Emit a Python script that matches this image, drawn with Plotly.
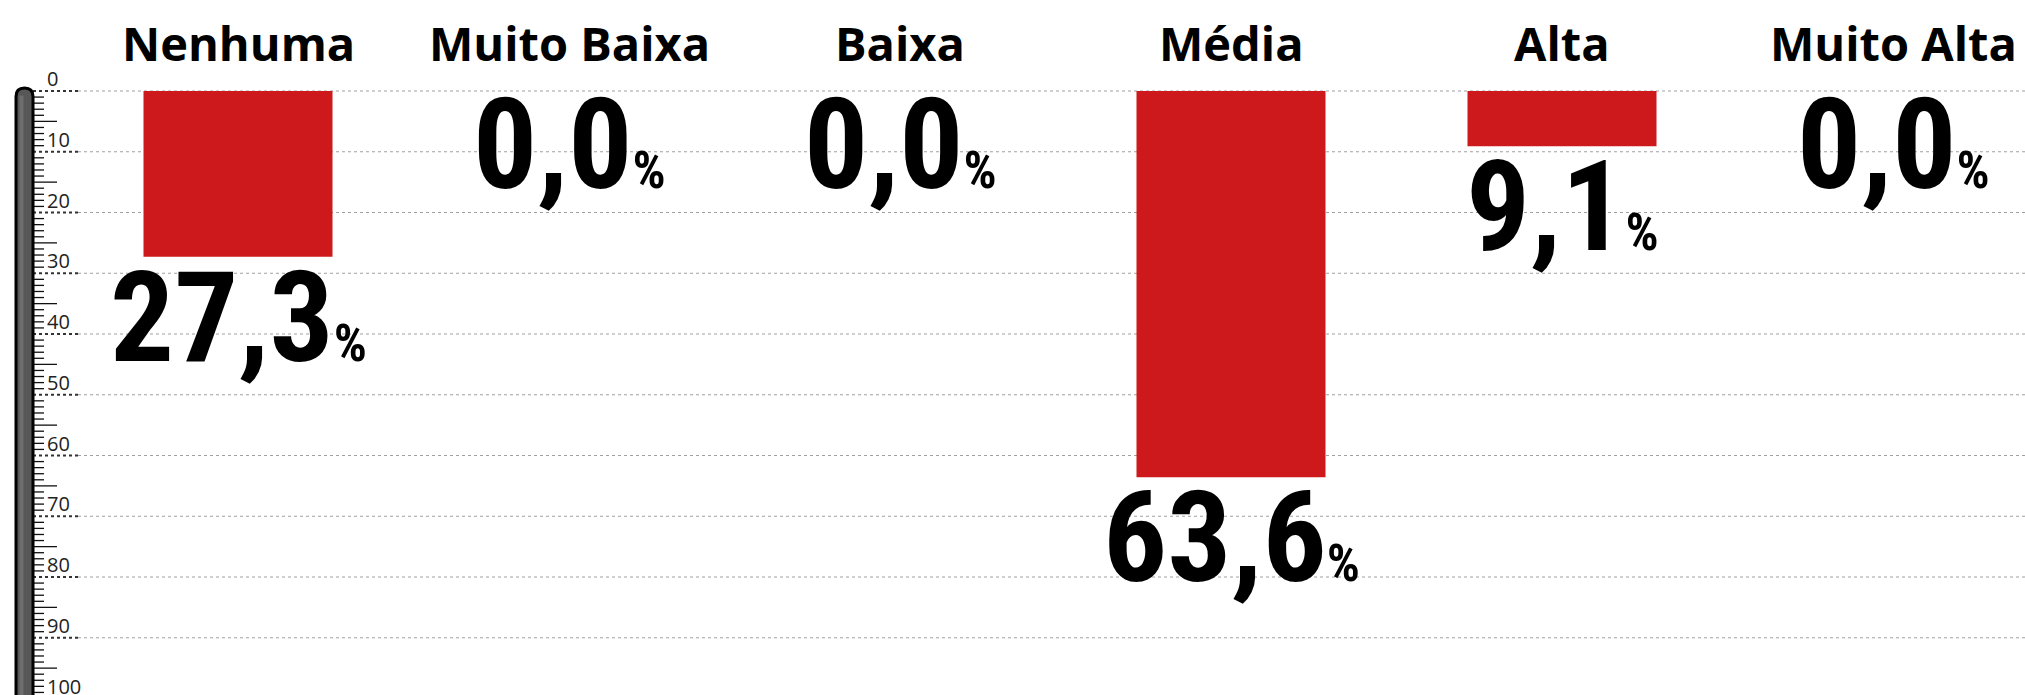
import plotly.graph_objects as go

# ---------------- data ----------------
categories = ["Nenhuma", "Muito Baixa", "Baixa", "Média", "Alta", "Muito Alta"]
values = [27.3, 0.0, 0.0, 63.6, 9.1, 0.0]
value_labels = ["27,3", "0,0", "0,0", "63,6", "9,1", "0,0"]
tick_values = [0, 10, 20, 30, 40, 50, 60, 70, 80, 90, 100]
tick_labels = ["0", "10", "20", "30", "40", "50", "60", "70", "80", "90", "100"]
minor_step = 1
medium_step = 5

# ---------------- geometry (pixels) ----------------
W, H = 2025, 695
PX_PER_UNIT = 6.075
ZERO_PX = 91.0
Y_TOP = -ZERO_PX / PX_PER_UNIT
Y_BOTTOM = (H - ZERO_PX) / PX_PER_UNIT
CAT0_PX, CAT_STEP_PX = 238.0, 331.0
X_LEFT = -CAT0_PX / CAT_STEP_PX
X_RIGHT = (W - CAT0_PX) / CAT_STEP_PX


def pxx(p):
    return p / W


RED = "#CD191B"
fig = go.Figure()
fig.add_trace(go.Bar(
    x=categories, y=values, base=0, width=189 / CAT_STEP_PX,
    marker=dict(color=RED, line=dict(width=0)), hoverinfo="skip",
))

shapes = []
# gridlines
for v in tick_values:
    shapes.append(dict(type="line", xref="paper", yref="y", x0=pxx(78), x1=1, y0=v, y1=v,
                       line=dict(color="#a0a0a0", width=1, dash="dot"), layer="below"))
    shapes.append(dict(type="line", xref="paper", yref="y", x0=pxx(33), x1=pxx(78), y0=v, y1=v,
                       line=dict(color="#333333", width=2, dash="dot"), layer="above"))
# thermometer ticks
v = 0
while v <= tick_values[-1]:
    if v % tick_values[1] != 0:
        end = 57 if v % medium_step == 0 else 44
        shapes.append(dict(type="line", xref="paper", yref="y", x0=pxx(33), x1=pxx(end), y0=v, y1=v,
                           line=dict(color="#111111", width=1.3), layer="above"))
    v += minor_step

# thermometer tube
xl, xr = pxx(16), pxx(33)
xc = (xl + xr) / 2
yt = -0.5
r = 8.5 / PX_PER_UNIT
yb = Y_BOTTOM + 5
path = (f"M {xl},{yb} L {xl},{yt + r} Q {xl},{yt} {xc},{yt} Q {xr},{yt} {xr},{yt + r} "
        f"L {xr},{yb} Z")
shapes.append(dict(type="path", xref="paper", yref="y", path=path,
                   fillcolor="#575757", line=dict(color="#000000", width=3), layer="above"))
hl0, hl1 = pxx(19.5), pxx(23.5)
shapes.append(dict(type="rect", xref="paper", yref="y", x0=hl0, x1=hl1, y0=yt + r * 0.9, y1=yb,
                   fillcolor="rgba(140,140,140,0.45)", line=dict(width=0), layer="above"))

annotations = []
# tick labels (a label whose value lies below the visible range is anchored at the
# range edge and shifted, so plotly does not hide it)
for v, lab in zip(tick_values, tick_labels):
    y_anchor = min(v, Y_BOTTOM)
    extra = (v - y_anchor) * PX_PER_UNIT
    annotations.append(dict(x=pxx(45), xref="paper", y=y_anchor, yref="y", text=lab, showarrow=False,
                            xanchor="left", yanchor="bottom", yshift=-3 - extra,
                            font=dict(family="Open Sans", size=20, color="#222222")))
# category labels
for c in categories:
    annotations.append(dict(x=c, xref="x", y=-2.35, yref="y", text=c, showarrow=False,
                            xanchor="center", yanchor="bottom",
                            font=dict(family="Open Sans", size=47, color="#000000", weight=700)))
# value labels
for c, v, lab in zip(categories, values, value_labels):
    annotations.append(dict(
        x=c, xref="x", y=v, yref="y", showarrow=False, xanchor="center", yanchor="top",
        yshift=23 if v == 0 else 16,
        text=f"{lab}<span style='font-size:52px'>%</span>",
        font=dict(family="Roboto Condensed, Open Sans Condensed, sans-serif",
                  size=127, color="#000000", weight=700)))

fig.update_layout(
    width=W, height=H, margin=dict(l=0, r=0, t=0, b=0),
    paper_bgcolor="white", plot_bgcolor="white", showlegend=False,
    xaxis=dict(type="category", range=[X_LEFT, X_RIGHT], visible=False, fixedrange=True),
    yaxis=dict(range=[Y_BOTTOM, Y_TOP], visible=False, fixedrange=True),
    shapes=shapes, annotations=annotations,
)
fig.write_html("out.html", config={"displayModeBar": False},
               post_script="document.body.style.margin='0';")
